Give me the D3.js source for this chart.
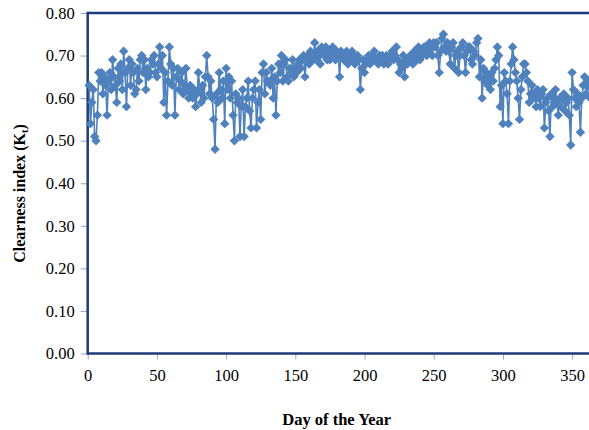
<!DOCTYPE html>
<html><head><meta charset="utf-8">
<script src="https://cdn.jsdelivr.net/npm/d3@7"></script>
<style>
html,body{margin:0;padding:0;background:#fff;}
svg{display:block;}
</style></head>
<body>
<svg id="chart" width="589" height="430"></svg>
<script>
// Daily clearness index Kt, days 1..365
const kt = [
0.63,0.54,0.59,0.62,0.51,0.50,0.56,0.66,0.64,0.66,
0.61,0.65,0.63,0.56,0.64,0.66,0.62,0.69,0.65,0.63,
0.59,0.67,0.64,0.68,0.62,0.71,0.66,0.58,0.67,0.69,
0.63,0.68,0.66,0.61,0.62,0.67,0.64,0.69,0.70,0.66,
0.69,0.62,0.67,0.65,0.66,0.69,0.68,0.70,0.66,0.65,
0.68,0.72,0.67,0.70,0.59,0.66,0.56,0.64,0.72,0.68,
0.63,0.67,0.56,0.65,0.67,0.62,0.64,0.66,0.61,0.63,
0.67,0.62,0.60,0.63,0.61,0.60,0.62,0.58,0.61,0.66,
0.62,0.59,0.63,0.60,0.65,0.70,0.65,0.61,0.64,0.60,
0.55,0.48,0.61,0.59,0.66,0.62,0.60,0.64,0.54,0.67,
0.62,0.65,0.60,0.64,0.56,0.50,0.61,0.59,0.60,0.51,
0.58,0.62,0.51,0.58,0.60,0.64,0.57,0.53,0.60,0.62,
0.64,0.53,0.59,0.62,0.55,0.66,0.68,0.61,0.66,0.64,
0.64,0.63,0.67,0.60,0.65,0.56,0.64,0.68,0.66,0.70,
0.64,0.68,0.69,0.65,0.64,0.67,0.66,0.69,0.65,0.67,
0.66,0.68,0.69,0.67,0.69,0.70,0.65,0.69,0.70,0.68,
0.71,0.70,0.69,0.73,0.69,0.71,0.70,0.68,0.72,0.71,
0.70,0.72,0.69,0.71,0.69,0.70,0.72,0.71,0.69,0.71,
0.70,0.65,0.71,0.70,0.69,0.70,0.71,0.68,0.70,0.69,
0.71,0.70,0.68,0.69,0.70,0.69,0.62,0.67,0.69,0.66,
0.68,0.69,0.70,0.68,0.69,0.70,0.71,0.69,0.69,0.68,
0.70,0.69,0.70,0.68,0.69,0.70,0.68,0.69,0.70,0.71,
0.69,0.70,0.72,0.69,0.66,0.68,0.67,0.70,0.65,0.69,
0.68,0.69,0.70,0.70,0.68,0.71,0.70,0.69,0.72,0.69,
0.71,0.70,0.72,0.72,0.70,0.71,0.73,0.72,0.70,0.73,
0.72,0.73,0.70,0.66,0.71,0.74,0.75,0.72,0.71,0.73,
0.71,0.68,0.72,0.73,0.67,0.70,0.71,0.66,0.70,0.72,
0.73,0.70,0.66,0.71,0.72,0.72,0.69,0.68,0.71,0.70,
0.73,0.74,0.65,0.69,0.60,0.67,0.64,0.66,0.63,0.65,
0.62,0.66,0.64,0.67,0.69,0.72,0.70,0.58,0.63,0.54,
0.66,0.64,0.61,0.54,0.64,0.68,0.72,0.69,0.66,0.64,
0.60,0.55,0.62,0.65,0.68,0.68,0.66,0.64,0.59,0.61,
0.63,0.60,0.61,0.58,0.62,0.60,0.58,0.61,0.62,0.53,
0.59,0.60,0.57,0.51,0.61,0.58,0.60,0.62,0.59,0.56,
0.60,0.58,0.60,0.61,0.57,0.59,0.60,0.56,0.49,0.66,
0.62,0.60,0.58,0.61,0.59,0.52,0.60,0.63,0.65,0.61,
0.63,0.64,0.60,0.62,0.61
];
const days = kt.map((v,i)=>i+1);
const xTicks = [0,50,100,150,200,250,300,350];
const yTicks = [0,0.1,0.2,0.3,0.4,0.5,0.6,0.7,0.8];
const xTitle = "Day of the Year";
const yTitle = "Clearness index (K";
const yTitleSub = "t";

const svg = d3.select("#chart");
const x = d3.scaleLinear().domain([0,365]).range([87.7, 87.7+365*1.384]);
const y = d3.scaleLinear().domain([0,0.8]).range([353.5, 13]);

const serif = "'Liberation Serif','Times New Roman',serif";
const blue = "#4f81bd";
const navy = "#1f3a78";

// y axis
const yAxis = svg.append("g").attr("transform",`translate(${x(0)},0)`)
  .call(d3.axisLeft(y).tickValues(yTicks).tickFormat(d3.format(".2f")).tickSize(7).tickPadding(6));
yAxis.select(".domain").remove();
yAxis.selectAll(".tick line").attr("stroke","#8aa8d0").attr("stroke-width",1);
yAxis.selectAll(".tick text").attr("font-family",serif).attr("font-size","16.5px").attr("fill","#000");

// x axis
const xAxis = svg.append("g").attr("transform",`translate(0,${y(0)})`)
  .call(d3.axisBottom(x).tickValues(xTicks).tickFormat(d3.format("d")).tickSize(6).tickPadding(10));
xAxis.select(".domain").remove();
xAxis.selectAll(".tick line").attr("stroke","#8aa8d0").attr("stroke-width",1);
xAxis.selectAll(".tick text").attr("font-family",serif).attr("font-size","16.5px").attr("fill","#000");

// frame (left, top, bottom)
svg.append("line").attr("x1",x(0)).attr("x2",589).attr("y1",y(0.8)).attr("y2",y(0.8)).attr("stroke",navy).attr("stroke-width",2.5);
svg.append("line").attr("x1",x(0)).attr("x2",x(0)).attr("y1",y(0.8)-1.2).attr("y2",y(0)+1.2).attr("stroke",navy).attr("stroke-width",2.5);
svg.append("line").attr("x1",x(0)).attr("x2",589).attr("y1",y(0)).attr("y2",y(0)).attr("stroke",navy).attr("stroke-width",2.5);

// series line
const line = d3.line().x((d,i)=>x(days[i])).y(d=>y(d));
svg.append("path").datum(kt).attr("d",line).attr("fill","none").attr("stroke",blue).attr("stroke-width",1.6);

// diamond markers
const r = 4.7;
svg.append("g").selectAll("path").data(kt).join("path")
  .attr("d",`M0,${-r}L${r},0L0,${r}L${-r},0Z`)
  .attr("transform",(d,i)=>`translate(${x(days[i])},${y(d)})`)
  .attr("fill",blue);

// axis titles
svg.append("text").attr("x",336.7).attr("y",425).attr("text-anchor","middle")
  .attr("font-family",serif).attr("font-weight","bold").attr("font-size","16.5px").text(xTitle);
const yt = svg.append("text").attr("transform","translate(25,193.5) rotate(-90)").attr("text-anchor","middle")
  .attr("font-family",serif).attr("font-weight","bold").attr("font-size","16px");
yt.append("tspan").text(yTitle);
yt.append("tspan").attr("font-size","10.5px").attr("dy","3").text(yTitleSub);
yt.append("tspan").attr("dy","-3").text(")");
</script>
</body></html>
